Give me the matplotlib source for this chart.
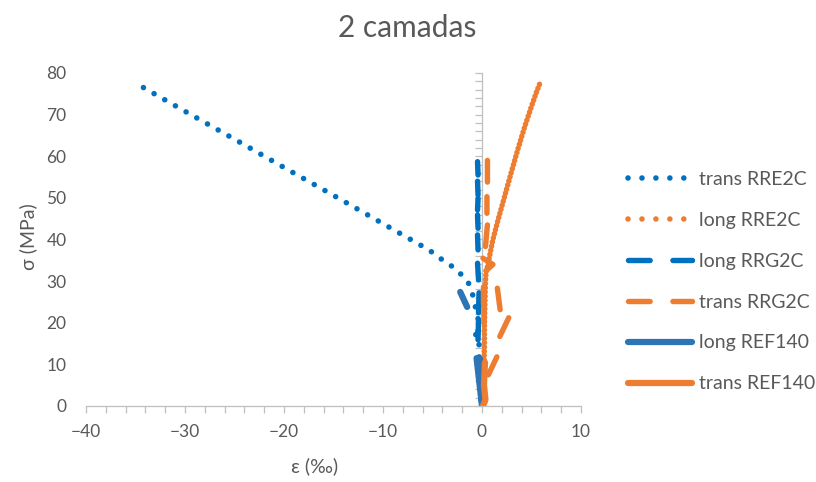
import numpy as np
import matplotlib
matplotlib.use("Agg")
import matplotlib.pyplot as plt
from matplotlib.ticker import MultipleLocator
from matplotlib.lines import Line2D

nan = np.nan

# strain (‰) and stress (MPa) readings per gauge
trans_rre2c_eps = [0.0, -0.1, -0.2, -0.25, -0.3, -0.3, -0.35, -1.1, -0.4, -0.4, -0.5, -0.7,
                   -0.9, -1.3, -2.05, -3.0, -4.0, -5.0, -6.1, -10.0, -15.0, -20.0, -25.0,
                   -30.0, -34.2]
trans_rre2c_sig = [0, 3, 6, 9, 12, 15, 17, 17.4, 18, 21, 23, 24,
                   26.4, 29.3, 31.5, 33.5, 35.1, 36.9, 38.5, 43.8, 50.6, 57.3, 64.1,
                   70.8, 76.5]

long_rre2c_eps = [0.0, 0.15, 0.2, 0.25, 0.25, 0.3, 0.35, 0.4, 0.6, 0.85, 1.1, 1.6, 2.3,
                  3.0, 3.6, 4.3, 5.0, 5.5, 5.86]
long_rre2c_sig = [0, 5, 10, 15, 20, 25, 30, 32, 34, 37, 40, 44.5, 50.5,
                  56.5, 61.5, 67, 72, 75.4, 77.6]

long_rrg2c_eps = [-0.45, -0.4, nan, -0.45, -0.4, nan, -0.4, -0.45, nan, -0.45, -0.4, nan,
                  -0.45, -0.4, nan, -0.45, -0.35, nan, -0.3, -0.35, nan, -0.35, -0.4]
long_rrg2c_sig = [58.7, 55.5, nan, 54.0, 50.7, nan, 49.9, 47.1, nan, 45.9, 42.7, nan,
                  41.1, 37.5, nan, 34.3, 30.3, nan, 27.2, 22.4, nan, 20.7, 15.9]

trans_rrg2c_eps = [0.55, 0.55, nan, 0.5, 0.5, nan, 0.55, 0.3, nan, 0.1, 1.1, 0.4, nan,
                   0.15, 0.15, nan, 0.2, 0.2, nan, 1.55, 1.85, nan, 2.7, 1.8, nan, 1.5, 0.65]
trans_rrg2c_sig = [59.0, 52.0, nan, 50.3, 46.3, nan, 43.5, 37.0, nan, 35.5, 34.0, 32.5, nan,
                   28.6, 24.5, nan, 24.0, 20.0, nan, 28.3, 22.8, nan, 21.2, 16.7, nan, 11.8, 7.5]

long_ref140_eps = [0.0, -0.55, -0.2, 0.0, nan, -2.2, -1.5]
long_ref140_sig = [0.0, 11.5, 11.3, 1.0, nan, 27.4, 23.8]

trans_ref140_eps = [0.1, 0.35, 0.2, 0.3]
trans_ref140_sig = [0.0, 1.5, 5.0, 10.5]

labels = ["trans RRE2C", "long RRE2C", "long RRG2C", "trans RRG2C", "long REF140", "trans REF140"]
x_ticks = [-40, -30, -20, -10, 0, 10]
y_ticks = [0, 10, 20, 30, 40, 50, 60, 70, 80]

BLUE = "#0070C0"
ORANGE = "#ED7D31"
STEEL = "#2E75B6"
GRAY_TXT = "#595959"
GRAY_AX = "#BFBFBF"

plt.rcParams["font.family"] = ["Lato", "DejaVu Sans"]

fig = plt.figure(figsize=(8.16, 4.82), dpi=100)
ax = fig.add_axes([86 / 816, 1 - 406 / 482, 495 / 816, 333 / 482])

DOT_LW = 4.0
dot_sparse = dict(linestyle=(0, (0.01, 2.2)), dash_capstyle="round", linewidth=DOT_LW)
dot_dense = dict(linestyle=(0, (0.01, 0.75)), dash_capstyle="round", linewidth=DOT_LW)
dot_legend = dict(linestyle=(0, (0.01, 2.5)), dash_capstyle="round", linewidth=DOT_LW)
dash_style = dict(linestyle=(0, (4.0, 4.2)), dash_capstyle="round", linewidth=3.9,
                  solid_capstyle="round")
solid_style = dict(linestyle="-", linewidth=4.5, solid_capstyle="round",
                   solid_joinstyle="round")

ax.plot(trans_rre2c_eps, trans_rre2c_sig, color=BLUE, **dot_sparse)
ax.plot(long_rre2c_eps, long_rre2c_sig, color=ORANGE, **dot_dense)
ax.plot(long_rrg2c_eps, long_rrg2c_sig, color=BLUE, **dash_style)
ax.plot(trans_rrg2c_eps, trans_rrg2c_sig, color=ORANGE, **dash_style)
ax.plot(long_ref140_eps, long_ref140_sig, color=STEEL, **solid_style)
ax.plot(trans_ref140_eps, trans_ref140_sig, color=ORANGE, **solid_style)

ax.set_xlim(-40, 10)
ax.set_ylim(0, 80)
ax.set_xticks(x_ticks)
ax.set_yticks(y_ticks)
ax.xaxis.set_minor_locator(MultipleLocator(2))

for side in ("top", "right", "left"):
    ax.spines[side].set_visible(False)
ax.spines["bottom"].set_color(GRAY_AX)
ax.spines["bottom"].set_linewidth(0.9)
ax.tick_params(axis="x", which="both", direction="out", length=5, width=0.9,
               color=GRAY_AX, labelsize=12.5, labelcolor=GRAY_TXT, pad=8)
ax.tick_params(axis="y", which="both", length=0, labelsize=12.5, labelcolor=GRAY_TXT, pad=14)

# vertical axis line crossing at zero strain
sec = ax.secondary_yaxis((0 - (-40)) / 50)
for sp in sec.spines.values():
    sp.set_color(GRAY_AX)
    sp.set_linewidth(0.9)
sec.yaxis.set_major_locator(MultipleLocator(10))
sec.yaxis.set_minor_locator(MultipleLocator(2))
sec.tick_params(axis="y", which="both", direction="in", length=5, width=0.9,
                color=GRAY_AX, labelleft=False, labelright=False)

ax.set_xlabel("ε (‰)", fontsize=14, color=GRAY_TXT)
ax.xaxis.set_label_coords((315 - 86) / 495, -0.155)
ax.set_ylabel("σ (MPa)", fontsize=14, color=GRAY_TXT)
ax.yaxis.set_label_coords((37 - 86) / 495, 0.51)

fig.text(407 / 816, 1 - 28 / 482, "2 camadas", ha="center", va="center",
         fontsize=21.5, color=GRAY_TXT)

handles = [
    Line2D([], [], color=BLUE, **dot_legend),
    Line2D([], [], color=ORANGE, **dot_legend),
    Line2D([], [], color=BLUE, **dash_style),
    Line2D([], [], color=ORANGE, **dash_style),
    Line2D([], [], color=STEEL, **solid_style),
    Line2D([], [], color=ORANGE, **solid_style),
]
fig.legend(handles, labels, loc="upper left", bbox_to_anchor=(620 / 816, 1 - 163 / 482),
           frameon=False, fontsize=14, labelcolor=GRAY_TXT, handlelength=3.3,
           handletextpad=0.35, labelspacing=1.23, borderaxespad=0)

fig.savefig("out.png", dpi=100)
